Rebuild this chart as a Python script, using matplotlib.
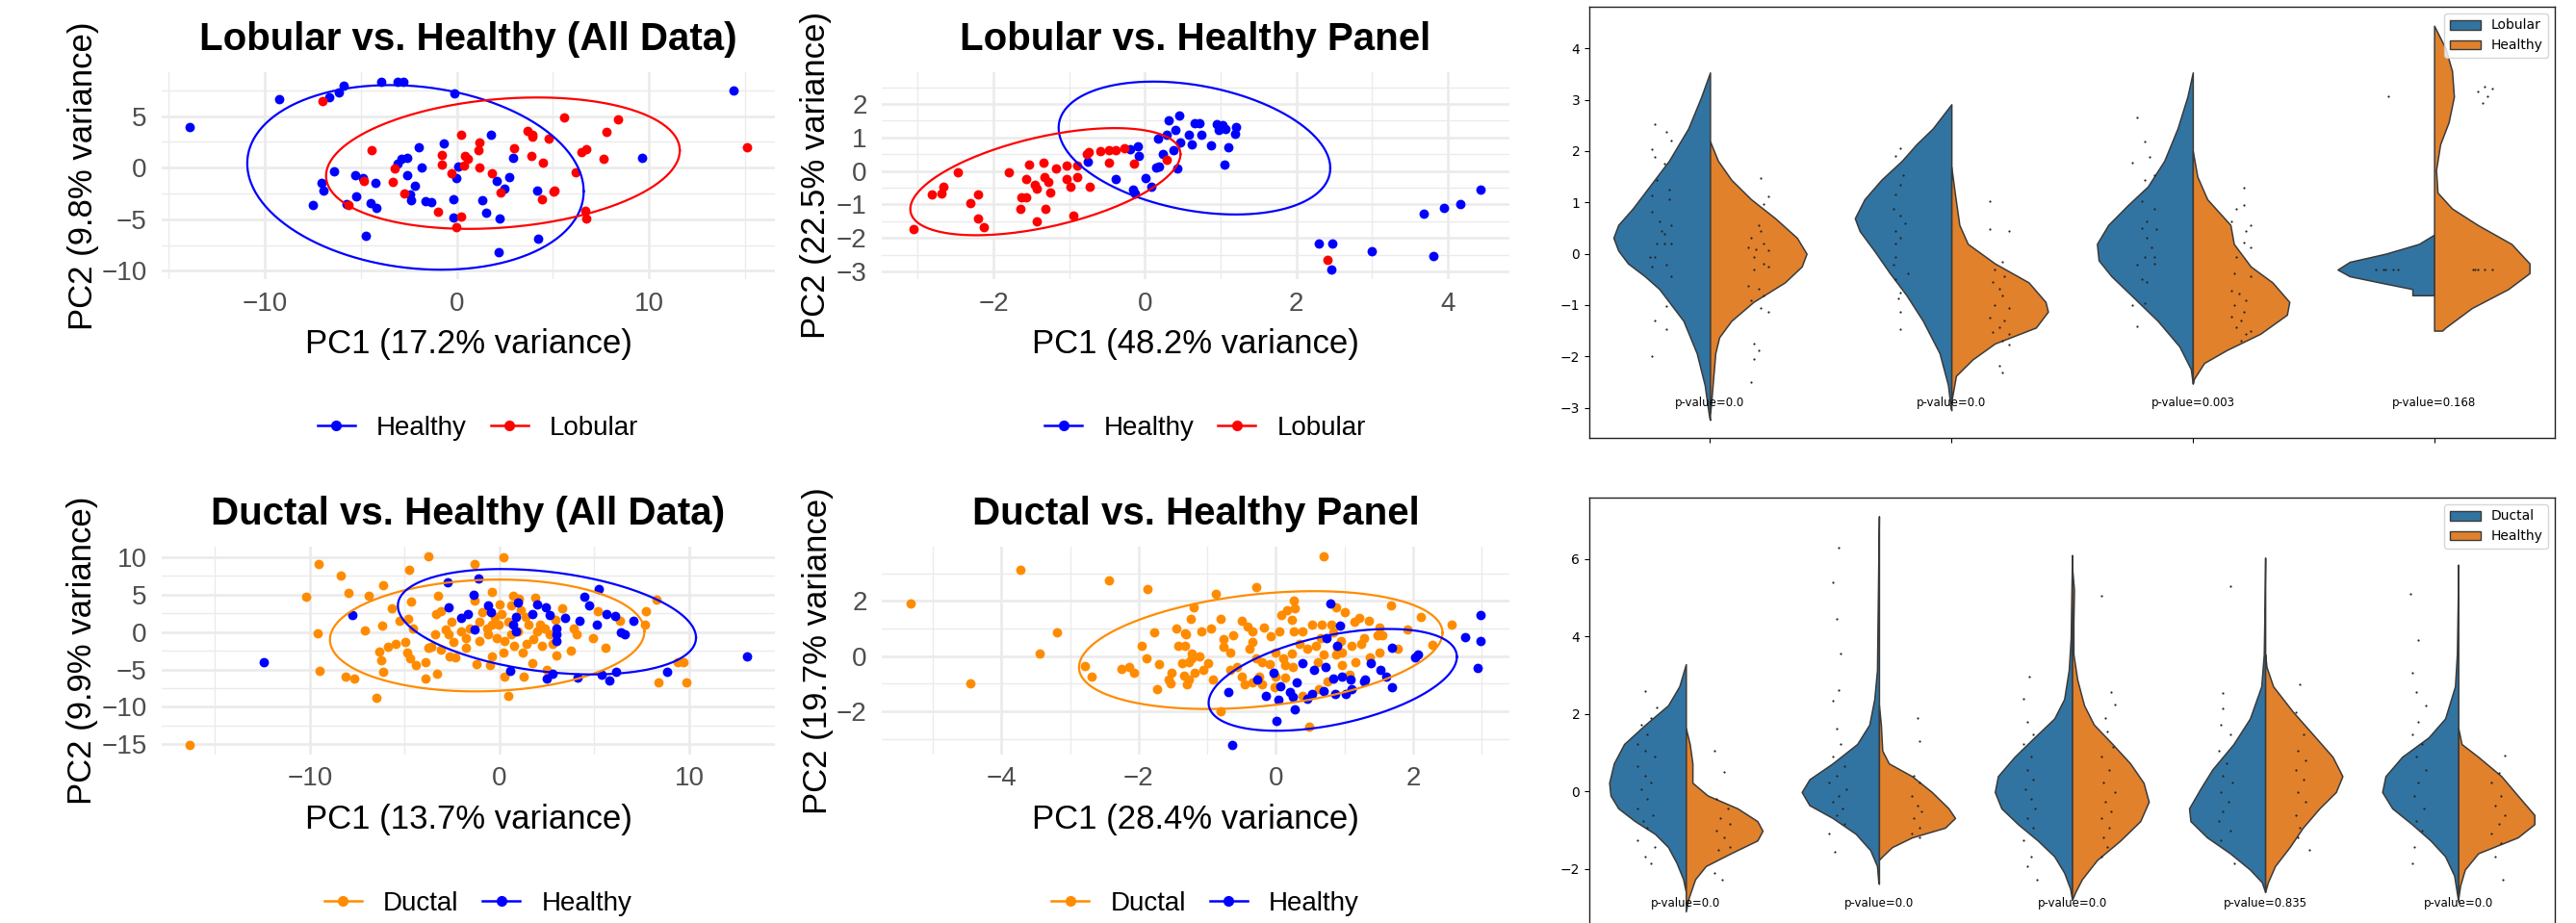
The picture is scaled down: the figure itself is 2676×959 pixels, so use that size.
import numpy as np
import matplotlib
matplotlib.use("Agg")
import matplotlib.pyplot as plt
from matplotlib.lines import Line2D
from matplotlib.patches import Patch

# ---------------- colours ----------------
C_HEALTHY = "#0000FF"
C_LOBULAR = "#FF0000"
C_DUCTAL = "#FF8C00"
V_BLUE = "#3274A1"
V_ORANGE = "#E1812C"
V_EDGE = "#3A3A3A"

# ---------------- PCA data: Lobular vs Healthy (all data) ----------------
lob_all_healthy_x = [-13.9, -9.24, -6.66, -6.12, -5.9, -3.93, -3.06, -2.76, -0.15, 14.4, 9.62, 2.93, 1.76,
                     -0.66, -1.99, -2.6, -2.89, -3.06, -1.84, 0.05, -0.05, 2.09, 2.75, 2.47, 4.16, 1.35, -0.2,
                     -1.63, -1.35, -2.37, -2.42, -2.17, -2.6, -4.24, -4.9, -5.26, -6.4, -7.04, -6.92, -7.5,
                     -5.74, -5.21, -4.49, -4.16, -4.72, -0.2, 1.53, 2.24, 4.21, 2.19]
lob_all_healthy_y = [3.97, 6.68, 6.83, 7.29, 7.97, 8.28, 8.34, 8.28, 7.2, 7.45, 0.9, 0.9, 3.14,
                     2.37, 1.94, 0.99, 0.84, 0.38, 0.0, 0.13, -0.98, -1.28, -0.88, -2.08, -2.27, -3.16, -3.1,
                     -3.25, -3.35, -3.13, -2.64, -1.72, -0.73, -1.47, -1.04, -0.73, -0.36, -1.47, -2.24, -3.62,
                     -3.56, -2.76, -3.41, -3.87, -6.57, -4.85, -4.39, -4.97, -6.88, -8.17]
lob_all_lobular_x = [-6.97, -4.41, -4.85, -3.34, -3.22, -2.73, -1.0, -0.77, -0.8, -0.26, 0.23, 0.41, 0.56,
                     0.38, 1.17, 1.15, 1.17, 1.84, 2.27, 0.2, -0.03, 2.98, 3.7, 3.93, 3.93, 3.9, 4.46, 4.44,
                     4.77, 5.05, 5.1, 5.58, 6.17, 6.5, 6.73, 6.68, 6.73, 7.65, 7.8, 8.39, 15.1, -5.64]
lob_all_lobular_y = [6.43, 1.67, -1.28, -1.41, -0.09, -2.55, -4.27, 1.27, 0.28, -0.58, 3.14, 1.11, 0.84,
                     0.19, 2.41, 1.73, 0.0, -0.58, -2.45, -4.79, -5.77, 1.85, 3.57, 3.21, 2.96, 1.11, 0.47, -3.07,
                     2.84, -2.33, -2.18, 4.87, -0.49, 1.54, 1.79, -4.18, -4.97, 0.84, 3.42, 4.68, 1.97, -3.6]
# ellipse: centre x, centre y, half width, half height, y offset of rightmost point
lob_all_healthy_ell = (-2.15, -0.95, 8.75, 8.95, -1.35)
lob_all_lobular_ell = (2.4, 0.43, 9.2, 6.37, 1.23)

# ---------------- PCA data: Lobular vs Healthy panel ----------------
lob_pan_healthy_x = [0.46, 0.31, 0.66, 0.72, 0.95, 1.03, 1.21, 0.98, 1.06, 1.19, 0.4, 0.29, 0.58, 0.75, 0.18,
                     0.47, 0.62, 0.87, 1.1, -0.09, -0.19, 0.38, 0.24, -0.08, -0.76, 1.05, 0.19, 0.15, 0.43,
                     -0.38, 0.01, -0.16, 0.08, -0.13, 4.44, 4.17, 3.95, 3.68, 2.3, 2.48, 3.0, 3.81, 2.46]
lob_pan_healthy_y = [1.66, 1.52, 1.43, 1.43, 1.41, 1.38, 1.31, 1.22, 1.25, 1.12, 1.24, 1.07, 1.07, 1.07, 0.98,
                     0.86, 0.79, 0.77, 0.71, 0.74, 0.65, 0.62, 0.51, 0.44, 0.27, 0.19, 0.14, 0.10, 0.07,
                     -0.23, -0.21, -0.56, -0.48, -0.68, -0.57, -0.98, -1.09, -1.28, -2.16, -2.18, -2.41, -2.54, -2.95]
lob_pan_lobular_x = [-3.06, -2.81, -2.69, -2.66, -2.47, -2.31, -2.21, -2.21, -2.13, -1.8, -1.65, -1.63, -1.57,
                     -1.57, -1.53, -1.46, -1.43, -1.43, -1.34, -1.33, -1.28, -1.25, -1.32, -1.17, -1.04, -1.03,
                     -0.99, -0.94, -0.9, -0.89, -0.77, -0.73, -0.74, -0.59, -0.48, -0.48, -0.39, -0.27, -0.14,
                     0.29, 2.41]
lob_pan_lobular_y = [-1.74, -0.71, -0.68, -0.48, -0.05, -0.97, -0.7, -1.42, -1.69, -0.03, -1.12, -0.8, -0.23,
                     -0.8, 0.2, -0.4, -0.54, -1.5, 0.25, -0.19, -0.33, -0.65, -1.13, 0.08, 0.16, -0.24,
                     -0.48, -1.34, 0.15, -0.18, 0.52, -0.46, 0.57, 0.6, 0.62, 0.24, 0.63, 0.67, 0.22,
                     0.33, -2.65]
lob_pan_healthy_ell = (0.655, 0.685, 1.795, 1.985, -0.6)
lob_pan_lobular_ell = (-1.315, -0.32, 1.785, 1.6, 0.82)

# ---------------- PCA data: Ductal vs Healthy (all data) ----------------
duc_all_ductal_x = [-16.34, -9.54, -8.39, -7.98, -10.18, -9.57, -9.47, -8.14, -7.68, -6.5, -7.1, -6.92, -6.16,
                    -6.19, -5.68, -5.28, -4.75, -4.68, -4.8, -4.57, -3.74, -3.25, -3.36, -3.08, -3.4, -2.86,
                    -2.52, -2.69, -2.43, -2.01, -6.33, -6.24, -5.9, -5.48, -4.97, -4.85, -4.72, -4.43, -3.92,
                    -6.16, -3.91, -3.28, -3.74, -3.58, -3.11, -2.64, -2.35, -1.76,
                    -1.32, 0.22, -1.29, -0.41, 0.02, 0.1, 0.69, 1.03, 1.88, 0.61, 1.12, -0.24, -0.41, -0.07,
                    0.44, -0.91, -1.08, -1.59, -1.76, -1.08, -0.58, -0.15, 0.27, 0.61, 0.78, 0.19, -0.41,
                    -1.22, -0.49, 0.24, 0.44, 1.28, 1.2, 1.45, 1.71, 1.79, 2.22, 2.13, 2.39, 2.64, 2.81, 2.98,
                    2.94, 3.32, 3.74, 3.91, 4.08, 2.5, 4.92, 5.18, 5.57, 6.36, 7.71, 7.68, 8.26, 8.36, 9.37,
                    9.71, 9.86, 1.54, 1.96, 0.95, 1.37, -0.66]
duc_all_ductal_y = [-15.1, 9.05, 7.51, 5.2, 4.69, -0.18, -5.14, -5.9, -6.25, -8.73, 0.2, 4.78, 6.27,
                    0.8, 3.15, 1.44, 8.28, 4.09, 1.79, 0.5, 10.12, 4.86, 2.38, 2.73, -0.27, 0.38,
                    1.36, -0.35, -1.29, 0.07, -2.57, -3.77, -1.97, -1.55, -1.29, -2.7, -3.56, -4.41, -3.98,
                    -5.27, -6.25, -5.61, -2.06, -1.97, -2.4, -3.26, -3.43, -2.06,
                    9.05, 9.99, 4.14, 5.29, 3.71, 2.43, 4.78, 4.44, 4.56, 3.5, 2.86, 2.0, 0.93, 0.93,
                    1.36, 2.64, 1.36, 0.5, -0.78, -1.2, -0.35, -0.78, -1.2, -0.35, -1.85, -2.7, -3.26,
                    -4.28, -4.41, -5.9, -8.56, -5.99, -2.7, -1.63, -4.11, -0.99, -1.85, 0.93, 0.5, -0.35, -1.63, -3.13,
                    1.57, 3.15, -2.49, 0.5, -0.35, -5.05, -0.78, 2.73, -2.06, 1.44, 2.77, 0.93, 4.27, -6.76, -3.98,
                    -3.98, -6.68, 1.0, 0.08, 0.08, 2.0, 0.5]
duc_all_healthy_x = [-12.45, -7.75, -2.74, -2.69, -2.01,
                     -1.12, -1.39, -1.68, -1.34, -0.61, -0.44, 0.95, 0.86, 0.69, 0.86, 1.96, 1.71, 2.44, 2.64,
                     2.98, 2.98, 2.98, 3.45, 4.2, 4.47, 4.7, 5.23, 5.14, 5.65, 6.11, 6.4, 6.61, 7.07, 0.57,
                     2.5, 2.81, 4.13, 5.38, 5.77, 6.16, 8.81, 13.05]
duc_all_healthy_y = [-3.98, 2.21, 6.66, 3.24, 1.92,
                     7.13, 4.99, 2.43, 0.29, 3.58, 2.64, 3.92, 2.0, 1.0, 0.08, 3.71, 2.43, 3.28, 2.21,
                     0.5, -0.35, -1.2, 1.87, 1.44, 4.69, 3.5, 5.72, 1.0, 2.43, 2.13, 0.0, -0.35, 1.44, -5.14,
                     -6.25, -5.56, -6.12, -5.69, -6.42, -5.35, -5.26, -3.26]
duc_all_ductal_ell = (-0.65, -0.47, 8.29, 7.46, 0.56)
duc_all_healthy_ell = (2.5, 1.365, 7.86, 7.03, -2.13)

# ---------------- PCA data: Ductal vs Healthy panel ----------------
duc_pan_ductal_x = [-5.33, -3.72, -4.46, -3.45, -3.19, -2.43, -1.87, -2.78, -2.69, -2.25, -2.14, -2.07, -1.96,
                    -1.88, -1.78, -1.71, -1.73, -1.56, -1.52, -1.53, -1.45, -1.33, -1.42, -1.33, -1.37, -1.27,
                    -1.34, -1.3, -1.24, -1.2, -1.23,
                    0.7, -0.875, -0.28, -0.81, -1.09, -0.95, -1.31, -0.76, -0.62, -0.49, -0.41, -0.34, -0.17,
                    -0.08, 0.05, 0.08, 0.17, 0.26, 0.27, 0.23, 0.26, 0.39, 0.53, 0.67, 0.81, 0.84, 0.88, 1.01,
                    1.15, 1.21, 1.35, 1.51, 1.48, 1.55, 1.29, 1.25, 1.11, 0.95, 0.9, 0.65, 0.58, 1.68, 1.92,
                    2.12, 2.28, 2.57, 1.78, 1.51, 1.37, 1.16, 0.97, 0.88, 0.7, 0.61, 0.46, 0.34, 0.23, 0.11,
                    -0.01, -0.09, -0.2, -0.29, -0.38, -0.34, -0.66, -0.76, -0.66, -0.57, -0.5, -0.45, -0.34,
                    -0.24, -0.2, -0.01, -0.02, 0.13, 0.25, 0.13, -1.11, -0.99, -1.23, -1.18, -0.92, -1.27,
                    -1.06, -0.81, 0.48, 0.39, 0.62, 0.76, 1.07, 0.97]
duc_pan_ductal_y = [1.9, 3.12, -0.99, 0.08, 0.86, 2.75, 2.42, -0.36, -0.76, -0.48, -0.39, -0.59, 0.36,
                    -0.09, 0.86, -0.3, -1.2, -0.85, -0.62, -0.99, 0.98, 0.82, 0.36, 0.36, -0.27, -0.21,
                    -0.71, -1.04, 1.36, 1.76, 0.1,
                    3.62, 2.26, 2.49, 1.36, 0.89, 1.01, 0.8, 0.6, 0.77, 1.26, 1.07, 0.89, 1.03,
                    0.72, 0.89, 1.47, 1.65, 2.0, 1.73, 1.3, 0.89, 0.89, 1.15, 1.12, 1.15, 0.87, 1.76, 1.59,
                    1.24, 1.38, 1.26, 1.03, 0.77, 0.77, 0.64, 0.43, 0.37, 0.54, 0.33, 0.66, 0.37, 1.84, 0.95,
                    1.41, 0.4, 1.15, 0.25, 0.14, -0.04, -0.21, -0.33, 0.06, 0.06, -0.21, 0.25, 0.43, 0.08, -0.1,
                    0.14, -0.29, -0.21, -0.1, 0.25, 0.52, 0.14, 0.33, -0.5, -0.39, -0.73, -1.02, -0.94,
                    -0.73, -1.02, -0.73, -1.14, -0.79, -0.39, -0.33, -0.01, -0.27, -0.1, -0.62, -0.85, -0.85,
                    -0.5, -1.99, -2.57, -1.43, -1.2, -0.91, -0.68, 0.14]
duc_pan_healthy_x = [0.8, 0.93, 0.74, 0.89, 0.39, 0.55, 0.73, 0.84, 0.97, 1.09, 1.28, 1.39, 1.53, 1.61, 1.7,
                     1.7, 2.03, 2.07, 2.76, 2.94, 2.98, 2.99, -0.69, -0.27, -0.14, -0.03, 0.06, 0.04, 0.2,
                     0.3, 0.25, 0.27, 0.46, 0.53, 0.69, 0.86, 1.02, 1.11, 1.3, 0.01, -0.64]
duc_pan_healthy_y = [1.9, 1.1, 0.66, 0.37, -0.25, -0.5, -0.39, -0.83, -0.76, -0.85, -0.91, -0.27, -0.5, -0.73, 0.31,
                     -1.14, -0.06, 0.06, 0.68, -0.44, 1.47, 0.54, -1.29, -0.85, -1.43, -0.62, -1.11, -1.6, -1.29,
                     -0.97, -1.49, -1.95, -1.55, -1.37, -1.26, -1.37, -1.37, -1.2, -0.85, -2.36, -3.23]
duc_pan_ductal_ell = (-0.22, 0.215, 2.65, 2.135, 0.625)
duc_pan_healthy_ell = (0.83, -0.865, 1.81, 1.845, 0.835)

# ---------------- violin data (half-width profiles) ----------------
lob_genes_pvals = ["0.0", "0.0", "0.003", "0.168"]
lob_blue_y = [
    [3.53, 3.06, 2.44, 1.81, 1.19, 0.88, 0.56, 0.31, 0.06, -0.19, -0.44, -0.69, -1.0, -1.31, -1.94, -2.56, -3.19, -3.24],
    [2.91, 2.44, 2.13, 1.81, 1.44, 1.06, 0.69, 0.44, 0.06, -0.38, -0.81, -1.31, -1.94, -2.56, -3.0, -3.05],
    [3.53, 3.06, 2.44, 1.81, 1.31, 0.94, 0.56, 0.19, -0.13, -0.44, -0.81, -1.31, -1.81, -2.25, -2.53],
    [0.37, 0.19, 0.0, -0.16, -0.31, -0.44, -0.56, -0.69, -0.81, -0.81],
]
lob_blue_w = [
    [0, 0.036, 0.09, 0.17, 0.27, 0.32, 0.38, 0.40, 0.38, 0.34, 0.27, 0.21, 0.16, 0.11, 0.055, 0.022, 0.003, 0],
    [0, 0.077, 0.145, 0.205, 0.29, 0.36, 0.40, 0.38, 0.32, 0.255, 0.186, 0.118, 0.049, 0.014, 0.003, 0],
    [0, 0.022, 0.063, 0.118, 0.186, 0.27, 0.35, 0.397, 0.39, 0.337, 0.255, 0.145, 0.055, 0.008, 0],
    [0, 0.063, 0.2, 0.35, 0.40, 0.35, 0.227, 0.09, 0.09, 0],
]
lob_orange_y = [
    [2.19, 1.81, 1.44, 1.06, 0.69, 0.31, 0.0, -0.25, -0.56, -0.94, -1.31, -1.63, -1.94, -2.56, -3.0, -3.1],
    [1.69, 1.19, 0.56, 0.19, -0.19, -0.56, -0.94, -1.13, -1.44, -1.75, -2.06, -2.38, -2.88],
    [2.0, 1.5, 1.06, 0.56, 0.19, -0.25, -0.56, -0.94, -1.19, -1.56, -1.88, -2.13, -2.44, -2.53],
    [4.44, 4.0, 3.56, 3.06, 2.56, 2.13, 1.63, 1.19, 0.88, 0.56, 0.19, -0.19, -0.38, -0.69, -1.06, -1.44, -1.5, -1.5],
]
lob_orange_w = [
    [0, 0.033, 0.088, 0.17, 0.27, 0.36, 0.40, 0.38, 0.31, 0.18, 0.088, 0.038, 0.022, 0.011, 0.003, 0],
    [0, 0.014, 0.033, 0.068, 0.18, 0.32, 0.39, 0.40, 0.35, 0.18, 0.088, 0.019, 0],
    [0, 0.019, 0.06, 0.156, 0.17, 0.24, 0.33, 0.40, 0.39, 0.28, 0.14, 0.047, 0.005, 0],
    [0, 0.047, 0.074, 0.082, 0.06, 0.025, 0.008, 0.014, 0.074, 0.18, 0.32, 0.395, 0.395, 0.307, 0.156, 0.047, 0.033, 0],
]
lob_blue_dots_dx = [
    [-0.23, -0.18, -0.16, -0.24, -0.23, -0.19, -0.22, -0.17, -0.24, -0.17, -0.24, -0.21, -0.16, -0.2, -0.19,
     -0.22, -0.19, -0.16, -0.25, -0.23, -0.18, -0.24, -0.16, -0.18, -0.23, -0.18, -0.24],
    [-0.21, -0.23, -0.2, -0.21, -0.23, -0.24, -0.21, -0.19, -0.23, -0.21, -0.23, -0.23, -0.24, -0.18, -0.23,
     -0.21, -0.22, -0.21, -0.21],
    [-0.23, -0.2, -0.18, -0.25, -0.16, -0.2, -0.21, -0.16, -0.19, -0.21, -0.15, -0.19, -0.17, -0.2, -0.16,
     -0.23, -0.16, -0.21, -0.19, -0.25, -0.2, -0.23],
    [-0.19, -0.24, -0.21, -0.17, -0.15, -0.2],
]
lob_blue_dots_y = [
    [2.53, 2.38, 2.2, 2.03, 1.88, 1.76, 1.44, 1.25, 1.13, 1.06, 0.81, 0.63, 0.56, 0.44, 0.38,
     0.19, 0.19, 0.19, -0.06, -0.06, -0.22, -0.25, -0.44, -1.03, -1.31, -1.47, -2.0],
    [2.06, 1.91, 1.53, 1.34, 1.16, 0.88, 0.75, 0.59, 0.44, 0.31, 0.19, -0.06, -0.22, -0.38, -0.5,
     -0.75, -0.88, -1.13, -1.47],
    [2.66, 2.19, 1.88, 1.78, 1.53, 1.44, 1.03, 0.88, 0.63, 0.5, 0.47, 0.31, 0.13, -0.06, -0.06,
     -0.22, -0.19, -0.5, -0.56, -1.0, -0.97, -1.41],
    [3.06, -0.3, -0.3, -0.3, -0.3, -0.3],
]
lob_orange_dots_dx = [
    [0.21, 0.24, 0.22, 0.2, 0.21, 0.17, 0.22, 0.16, 0.19, 0.24, 0.18, 0.22, 0.18, 0.24, 0.16, 0.2, 0.22,
     0.17, 0.21, 0.24, 0.18, 0.2, 0.18, 0.17],
    [0.16, 0.16, 0.24, 0.21, 0.18, 0.22, 0.17, 0.2, 0.21, 0.18, 0.24, 0.16, 0.22, 0.2, 0.17, 0.24, 0.21,
     0.24, 0.2, 0.21],
    [0.21, 0.21, 0.18, 0.16, 0.24, 0.22, 0.21, 0.24, 0.18, 0.17, 0.24, 0.16, 0.19, 0.22, 0.17, 0.21, 0.16,
     0.2, 0.18, 0.24, 0.2, 0.22],
    [0.18, 0.21, 0.24, 0.22, 0.2, 0.16, 0.18, 0.21, 0.24, 0.17],
]
lob_orange_dots_y = [
    [1.47, 1.11, 0.97, 0.56, 0.44, 0.31, 0.19, 0.13, 0.09, 0.06, -0.06, -0.19, -0.31, -0.25, -0.63, -0.69,
     -0.81, -0.91, -1.06, -1.13, -1.75, -1.88, -2.06, -2.5],
    [1.03, 0.47, 0.44, -0.16, -0.31, -0.44, -0.56, -0.69, -0.81, -1.0, -1.06, -1.25, -1.31, -1.44, -1.53,
     -1.56, -1.69, -1.78, -2.19, -2.31],
    [1.28, 0.94, 0.88, 0.63, 0.56, 0.44, 0.22, 0.13, -0.06, -0.38, -0.44, -0.72, -0.78, -0.91, -1.0, -1.13,
     -1.22, -1.31, -1.44, -1.5, -1.69, -1.56],
    [3.16, 3.25, 3.22, 3.06, 2.94, -0.3, -0.3, -0.3, -0.3, -0.3],
]

duc_genes_pvals = ["0.0", "0.0", "0.0", "0.835", "0.0"]
duc_blue_y = [
    [3.28, 2.71, 2.22, 1.72, 1.22, 0.72, 0.22, -0.11, -0.44, -0.77, -1.10, -1.44, -1.85, -2.27, -2.6],
    [7.1, 6.03, 4.37, 3.13, 2.38, 1.72, 1.22, 0.72, 0.31, -0.02, -0.36, -0.69, -1.1, -1.52, -1.93, -2.35, -2.39],
    [6.1, 5.2, 3.96, 3.13, 2.38, 1.88, 1.39, 0.89, 0.39, -0.02, -0.44, -0.85, -1.27, -1.68, -2.1, -2.51, -2.8],
    [6.03, 4.79, 3.54, 2.71, 1.88, 1.22, 0.56, 0.06, -0.44, -0.77, -1.19, -1.6, -2.02, -2.35, -2.6],
    [5.85, 4.79, 3.54, 2.71, 1.88, 1.39, 0.89, 0.39, -0.02, -0.44, -0.85, -1.27, -1.68, -2.18, -2.85],
]
duc_blue_w = [
    [0, 0.034, 0.092, 0.21, 0.32, 0.373, 0.397, 0.39, 0.35, 0.264, 0.16, 0.092, 0.048, 0.014, 0],
    [0, 0.003, 0.007, 0.01, 0.024, 0.05, 0.113, 0.24, 0.36, 0.40, 0.36, 0.24, 0.12, 0.045, 0.01, 0.003, 0],
    [0, 0.003, 0.007, 0.017, 0.041, 0.092, 0.195, 0.298, 0.384, 0.40, 0.366, 0.28, 0.178, 0.092, 0.041, 0.01, 0],
    [0, 0.003, 0.007, 0.02, 0.079, 0.164, 0.274, 0.336, 0.394, 0.387, 0.301, 0.182, 0.079, 0.017, 0],
    [0, 0.003, 0.007, 0.017, 0.068, 0.154, 0.291, 0.377, 0.394, 0.342, 0.24, 0.144, 0.068, 0.021, 0],
]
duc_orange_y = [
    [1.63, 1.22, 0.72, 0.22, -0.11, -0.44, -0.77, -1.02, -1.27, -1.6, -1.93, -2.27, -2.76, -3.1],
    [2.22, 1.72, 1.05, 0.72, 0.39, -0.02, -0.44, -0.69, -0.94, -1.19, -1.44, -1.68, -1.77],
    [5.78, 5.2, 4.37, 3.54, 2.88, 2.22, 1.72, 1.22, 0.72, 0.22, -0.27, -0.77, -1.27, -1.77, -2.27, -2.6, -2.8],
    [3.54, 3.21, 2.71, 2.05, 1.47, 0.89, 0.39, -0.02, -0.44, -0.94, -1.44, -1.93, -2.35, -2.6],
    [1.63, 1.22, 0.89, 0.39, -0.11, -0.61, -0.85, -1.19, -1.6, -2.02, -2.43, -2.76],
]
duc_orange_w = [
    [0, 0.02, 0.034, 0.034, 0.113, 0.267, 0.37, 0.397, 0.37, 0.233, 0.103, 0.048, 0.014, 0],
    [0, 0.01, 0.017, 0.051, 0.171, 0.274, 0.36, 0.394, 0.342, 0.171, 0.068, 0.017, 0],
    [0, 0.01, 0.007, 0.007, 0.027, 0.062, 0.113, 0.209, 0.301, 0.37, 0.397, 0.353, 0.25, 0.13, 0.051, 0.017, 0],
    [0, 0.007, 0.041, 0.144, 0.247, 0.349, 0.40, 0.366, 0.281, 0.195, 0.127, 0.051, 0.014, 0],
    [0, 0.017, 0.103, 0.223, 0.308, 0.394, 0.394, 0.308, 0.103, 0.034, 0.01, 0],
]
duc_blue_dots_dx = [
    [-0.21, -0.15, -0.18, -0.23, -0.2, -0.25, -0.21, -0.16, -0.25, -0.21, -0.18, -0.23, -0.2, -0.25, -0.17,
     -0.22, -0.2, -0.25, -0.16, -0.21, -0.18],
    [-0.21, -0.24, -0.22, -0.2, -0.21, -0.24, -0.22, -0.2, -0.24, -0.18, -0.22, -0.26, -0.17, -0.21, -0.24,
     -0.19, -0.22, -0.18, -0.26, -0.23],
    [-0.22, -0.25, -0.23, -0.2, -0.25, -0.21, -0.23, -0.2, -0.24, -0.21, -0.19, -0.23, -0.2, -0.25, -0.21,
     -0.23, -0.18],
    [-0.18, -0.22, -0.22, -0.23, -0.18, -0.24, -0.2, -0.22, -0.17, -0.23, -0.19, -0.22, -0.24, -0.18, -0.23,
     -0.16],
    [-0.25, -0.21, -0.24, -0.22, -0.17, -0.21, -0.24, -0.19, -0.22, -0.17, -0.21, -0.23, -0.18, -0.22, -0.19,
     -0.23, -0.24],
]
duc_blue_dots_y = [
    [2.59, 2.17, 1.88, 1.72, 1.47, 1.22, 1.05, 0.89, 0.64, 0.39, 0.22, 0.06, -0.19, -0.44, -0.61,
     -0.77, -0.94, -1.27, -1.44, -1.68, -1.85],
    [6.3, 5.39, 4.44, 3.56, 2.61, 2.34, 1.63, 1.22, 0.89, 0.64, 0.39, 0.22, 0.06, -0.11, -0.27,
     -0.44, -0.61, -0.85, -1.1, -1.56],
    [2.95, 2.38, 1.8, 1.47, 1.22, 0.89, 0.56, 0.31, 0.06, -0.19, -0.44, -0.69, -0.94, -1.27, -1.68,
     -1.93, -2.27],
    [5.29, 2.53, 2.13, 1.72, 1.47, 1.05, 0.72, 0.39, 0.22, -0.02, -0.27, -0.52, -0.77, -1.02, -1.27,
     -1.85],
    [5.1, 3.9, 3.05, 2.55, 2.22, 1.8, 1.47, 1.22, 0.89, 0.56, 0.22, -0.11, -0.44, -0.77, -1.02,
     -1.44, -1.85],
]
duc_orange_dots_dx = [
    [0.15, 0.2, 0.16, 0.22, 0.18, 0.23, 0.16, 0.2, 0.23, 0.17, 0.15, 0.19],
    [0.2, 0.21, 0.18, 0.21, 0.17, 0.2, 0.22, 0.18, 0.21, 0.17, 0.21],
    [0.15, 0.2, 0.22, 0.17, 0.18, 0.21, 0.15, 0.19, 0.16, 0.22, 0.17, 0.2, 0.15, 0.19, 0.16, 0.18, 0.15],
    [0.18, 0.16, 0.2, 0.17, 0.21, 0.16, 0.2, 0.17, 0.21, 0.16, 0.18, 0.17, 0.23],
    [0.24, 0.21, 0.17, 0.22, 0.19, 0.24, 0.21, 0.17, 0.22, 0.19, 0.23],
]
duc_orange_dots_y = [
    [1.05, 0.49, -0.19, -0.44, -0.69, -0.85, -1.02, -1.19, -1.44, -1.52, -2.1, -2.27],
    [1.88, 1.3, 0.39, 0.22, -0.11, -0.36, -0.52, -0.69, -0.94, -1.1, -1.19],
    [5.04, 2.56, 2.23, 1.88, 1.55, 1.14, 0.89, 0.56, 0.22, -0.02, -0.27, -0.52, -0.69, -0.94, -1.19, -1.44, -1.68],
    [2.76, 2.05, 1.47, 1.05, 0.8, 0.56, 0.31, -0.02, -0.27, -0.61, -0.94, -1.19, -1.52],
    [0.93, 0.47, 0.22, -0.11, -0.36, -0.61, -0.85, -1.1, -1.35, -1.68, -2.27],
]

# ---------------- figure ----------------
plt.rcParams["font.family"] = ["Liberation Sans", "DejaVu Sans"]
W, H = 2676, 959
fig = plt.figure(figsize=(W / 100, H / 100), dpi=100)
fig.patch.set_facecolor("white")


def px_axes(left, top, right, bottom):
    return fig.add_axes([left / W, 1 - bottom / H, (right - left) / W, (bottom - top) / H])


def ellipse_xy(cx, cy, hw, hh, dy):
    t = np.linspace(0, 2 * np.pi, 241)
    return cx + hw * np.cos(t), cy + dy * np.cos(t) + np.sqrt(hh ** 2 - dy ** 2) * np.sin(t)


def pca_panel(ax, series, title, xlab, ylab, xmaj, xmin, ymaj, ymin, ylab_off):
    pw = ax.get_position().width * W
    ph = ax.get_position().height * H
    for name, color, xs, ys, ell in series:
        ax.scatter(xs, ys, s=50, color=color, linewidths=0, zorder=3)
    for name, color, xs, ys, ell in series:
        ex, ey = ellipse_xy(*ell)
        ax.plot(ex, ey, color=color, lw=1.6, zorder=4)
    ax.margins(0.05)
    ax.autoscale_view()
    ax.set_xticks(xmaj)
    ax.set_xticks(xmin, minor=True)
    ax.set_yticks(ymaj)
    ax.set_yticks(ymin, minor=True)
    ax.grid(which="major", color="#EBEBEB", lw=1.9)
    ax.grid(which="minor", color="#EBEBEB", lw=1.0)
    ax.set_axisbelow(True)
    for s in ax.spines.values():
        s.set_visible(False)
    ax.tick_params(which="both", length=0, labelsize=20, labelcolor="#4D4D4D")
    ax.tick_params(axis="x", pad=9)
    ax.tick_params(axis="y", pad=11)
    ax.text(0.5, 1 + 34 / ph, title, transform=ax.transAxes, ha="center", va="center",
            fontsize=29, fontweight="bold")
    ax.set_xlabel(xlab, fontsize=25, va="center")
    ax.xaxis.set_label_coords(0.5, -67 / ph)
    ax.set_ylabel(ylab, fontsize=25, va="center")
    ax.yaxis.set_label_coords(-ylab_off / pw, 0.5)
    handles = [Line2D([0], [0], color=c, lw=1.8, marker="o", markersize=7) for _, c, _, _, _ in series]
    ax.legend(handles, [n for n, _, _, _, _ in series], loc="center",
              bbox_to_anchor=(0.5 + 10 / pw, -155 / ph), ncol=2, frameon=False, fontsize=20,
              handlelength=1.4, handletextpad=0.8, columnspacing=0.9)


ax1 = px_axes(168, 75, 805, 290)
pca_panel(ax1, [("Healthy", C_HEALTHY, lob_all_healthy_x, lob_all_healthy_y, lob_all_healthy_ell),
                ("Lobular", C_LOBULAR, lob_all_lobular_x, lob_all_lobular_y, lob_all_lobular_ell)],
          "Lobular vs. Healthy (All Data)", "PC1 (17.2% variance)", "PC2 (9.8% variance)",
          [-10, 0, 10], [-15, -5, 5, 15], [-10, -5, 0, 5], [-7.5, -2.5, 2.5, 7.5], 81)

ax2 = px_axes(916, 75, 1568, 290)
pca_panel(ax2, [("Healthy", C_HEALTHY, lob_pan_healthy_x, lob_pan_healthy_y, lob_pan_healthy_ell),
                ("Lobular", C_LOBULAR, lob_pan_lobular_x, lob_pan_lobular_y, lob_pan_lobular_ell)],
          "Lobular vs. Healthy Panel", "PC1 (48.2% variance)", "PC2 (22.5% variance)",
          [-2, 0, 2, 4], [-3, -1, 1, 3], [-3, -2, -1, 0, 1, 2], [-2.5, -1.5, -0.5, 0.5, 1.5, 2.5], 68)

ax3 = px_axes(168, 568, 805, 784)
pca_panel(ax3, [("Ductal", C_DUCTAL, duc_all_ductal_x, duc_all_ductal_y, duc_all_ductal_ell),
                ("Healthy", C_HEALTHY, duc_all_healthy_x, duc_all_healthy_y, duc_all_healthy_ell)],
          "Ductal vs. Healthy (All Data)", "PC1 (13.7% variance)", "PC2 (9.9% variance)",
          [-10, 0, 10], [-15, -5, 5], [-15, -10, -5, 0, 5, 10], [-12.5, -7.5, -2.5, 2.5, 7.5], 82)

ax4 = px_axes(916, 568, 1568, 784)
pca_panel(ax4, [("Ductal", C_DUCTAL, duc_pan_ductal_x, duc_pan_ductal_y, duc_pan_ductal_ell),
                ("Healthy", C_HEALTHY, duc_pan_healthy_x, duc_pan_healthy_y, duc_pan_healthy_ell)],
          "Ductal vs. Healthy Panel", "PC1 (28.4% variance)", "PC2 (19.7% variance)",
          [-4, -2, 0, 2], [-5, -3, -1, 1, 3], [-2, 0, 2], [-3, -1, 1, 3], 66)


def violin_panel(ax, by, bw, oy, ow, bdx, bdy, odx, ody, pvals, names, ylim, yticks):
    for i in range(len(pvals)):
        ax.fill_betweenx(by[i], i - np.asarray(bw[i]), i, facecolor=V_BLUE, edgecolor=V_EDGE, lw=1.1, zorder=2)
        ax.fill_betweenx(oy[i], i, i + np.asarray(ow[i]), facecolor=V_ORANGE, edgecolor=V_EDGE, lw=1.1, zorder=2)
        ax.scatter(i + np.asarray(bdx[i]), bdy[i], s=2.5, color="#222222", linewidths=0, zorder=3)
        ax.scatter(i + np.asarray(odx[i]), ody[i], s=2.5, color="#222222", linewidths=0, zorder=3)
        ax.text(i, -2.9, "p-value=" + pvals[i], ha="center", va="center", fontsize=8.5,
                family="DejaVu Sans", zorder=4)
    ax.set_xlim(-0.5, len(pvals) - 0.5)
    ax.set_ylim(*ylim)
    ax.set_yticks(yticks)
    ax.set_xticks(range(len(pvals)))
    ax.set_xticklabels([])
    ax.tick_params(labelsize=10, labelfontfamily="DejaVu Sans", length=3.5, width=0.8)
    for s in ax.spines.values():
        s.set_linewidth(1.0)
        s.set_color("#222222")
    handles = [Patch(facecolor=V_BLUE, edgecolor=V_EDGE, label=names[0]),
               Patch(facecolor=V_ORANGE, edgecolor=V_EDGE, label=names[1])]
    ax.legend(handles=handles, loc="upper right", prop={"family": "DejaVu Sans", "size": 10},
              handlelength=2.3)


ax5 = px_axes(1651, 7, 2654, 455)
violin_panel(ax5, lob_blue_y, lob_blue_w, lob_orange_y, lob_orange_w,
             lob_blue_dots_dx, lob_blue_dots_y, lob_orange_dots_dx, lob_orange_dots_y,
             lob_genes_pvals, ["Lobular", "Healthy"], (-3.59, 4.81), list(range(-3, 5)))

ax6 = px_axes(1651, 517, 2654, 959)
violin_panel(ax6, duc_blue_y, duc_blue_w, duc_orange_y, duc_orange_w,
             duc_blue_dots_dx, duc_blue_dots_y, duc_orange_dots_dx, duc_orange_dots_y,
             duc_genes_pvals, ["Ductal", "Healthy"], (-3.40, 7.58), [-2, 0, 2, 4, 6])
ax6.spines["bottom"].set_visible(False)
ax6.tick_params(axis="x", length=0)

fig.savefig("out.png", dpi=100, facecolor="white")
